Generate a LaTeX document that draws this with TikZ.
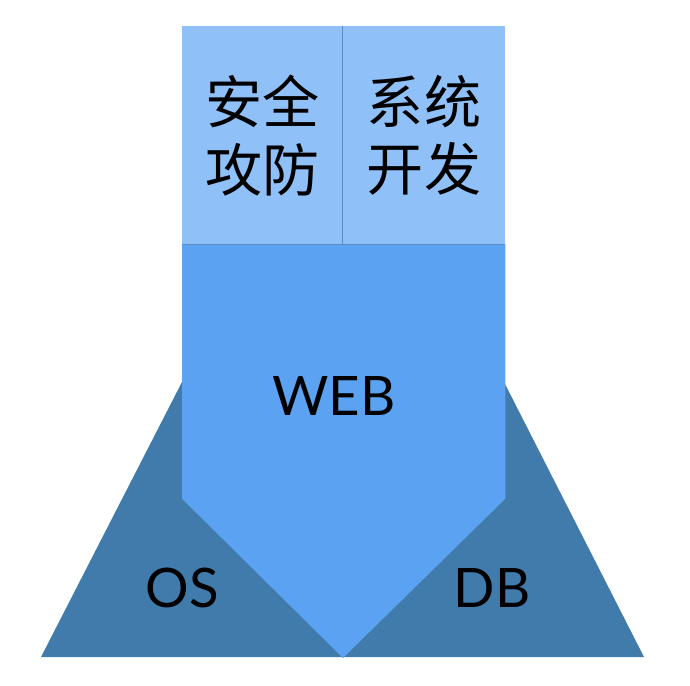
\documentclass[tikz,border=0pt]{standalone}
\usepackage{fontspec}
\setmainfont{Lato}
\newfontfamily\cjk{Noto Sans CJK SC}
\usetikzlibrary{positioning,calc}
\definecolor{paleblue}{RGB}{143,192,247}
\definecolor{webblue}{RGB}{91,163,242}
\definecolor{steelblue}{RGB}{64,123,172}
\definecolor{edgeblue}{RGB}{96,140,196}

\begin{document}
\begin{tikzpicture}[x=0.02cm,y=-0.02cm,
  topbox/.style={fill=paleblue, minimum height=4.36cm, inner sep=0pt, anchor=north west, align=center, font=\cjk\fontsize{32.5}{38.5}\selectfont},
  biglabel/.style={font=\fontsize{31}{36}\selectfont, inner sep=0pt}]
\useasboundingbox (0,0) rectangle (690,686);
% base layer
\fill[steelblue] (41,657) -- (182,382) -- (504,382) -- (644,657) -- cycle;
% top boxes
\node[topbox, minimum width=3.2cm] (safe) at (182,26) {安全\\攻防};
\node[topbox, minimum width=3.24cm, right=0pt of safe.north east, anchor=north west] (dev) {系统\\开发};
\draw[edgeblue] (safe.north east) -- (safe.south east);
% web arrow
\coordinate (tip) at (343,658);
\fill[webblue] (safe.south west) -- (dev.south east) -- ++(0,254) -- (tip) -- ($(safe.south west)+(0,254)$) -- cycle;
\draw[edgeblue, thick] (safe.south west) -- (dev.south east);
\node[biglabel] (web) at (334,396) {WEB};
\node[biglabel] (os) at (182,588) {OS};
\node[biglabel] (db) at (492,588) {DB};
\end{tikzpicture}
\end{document}
